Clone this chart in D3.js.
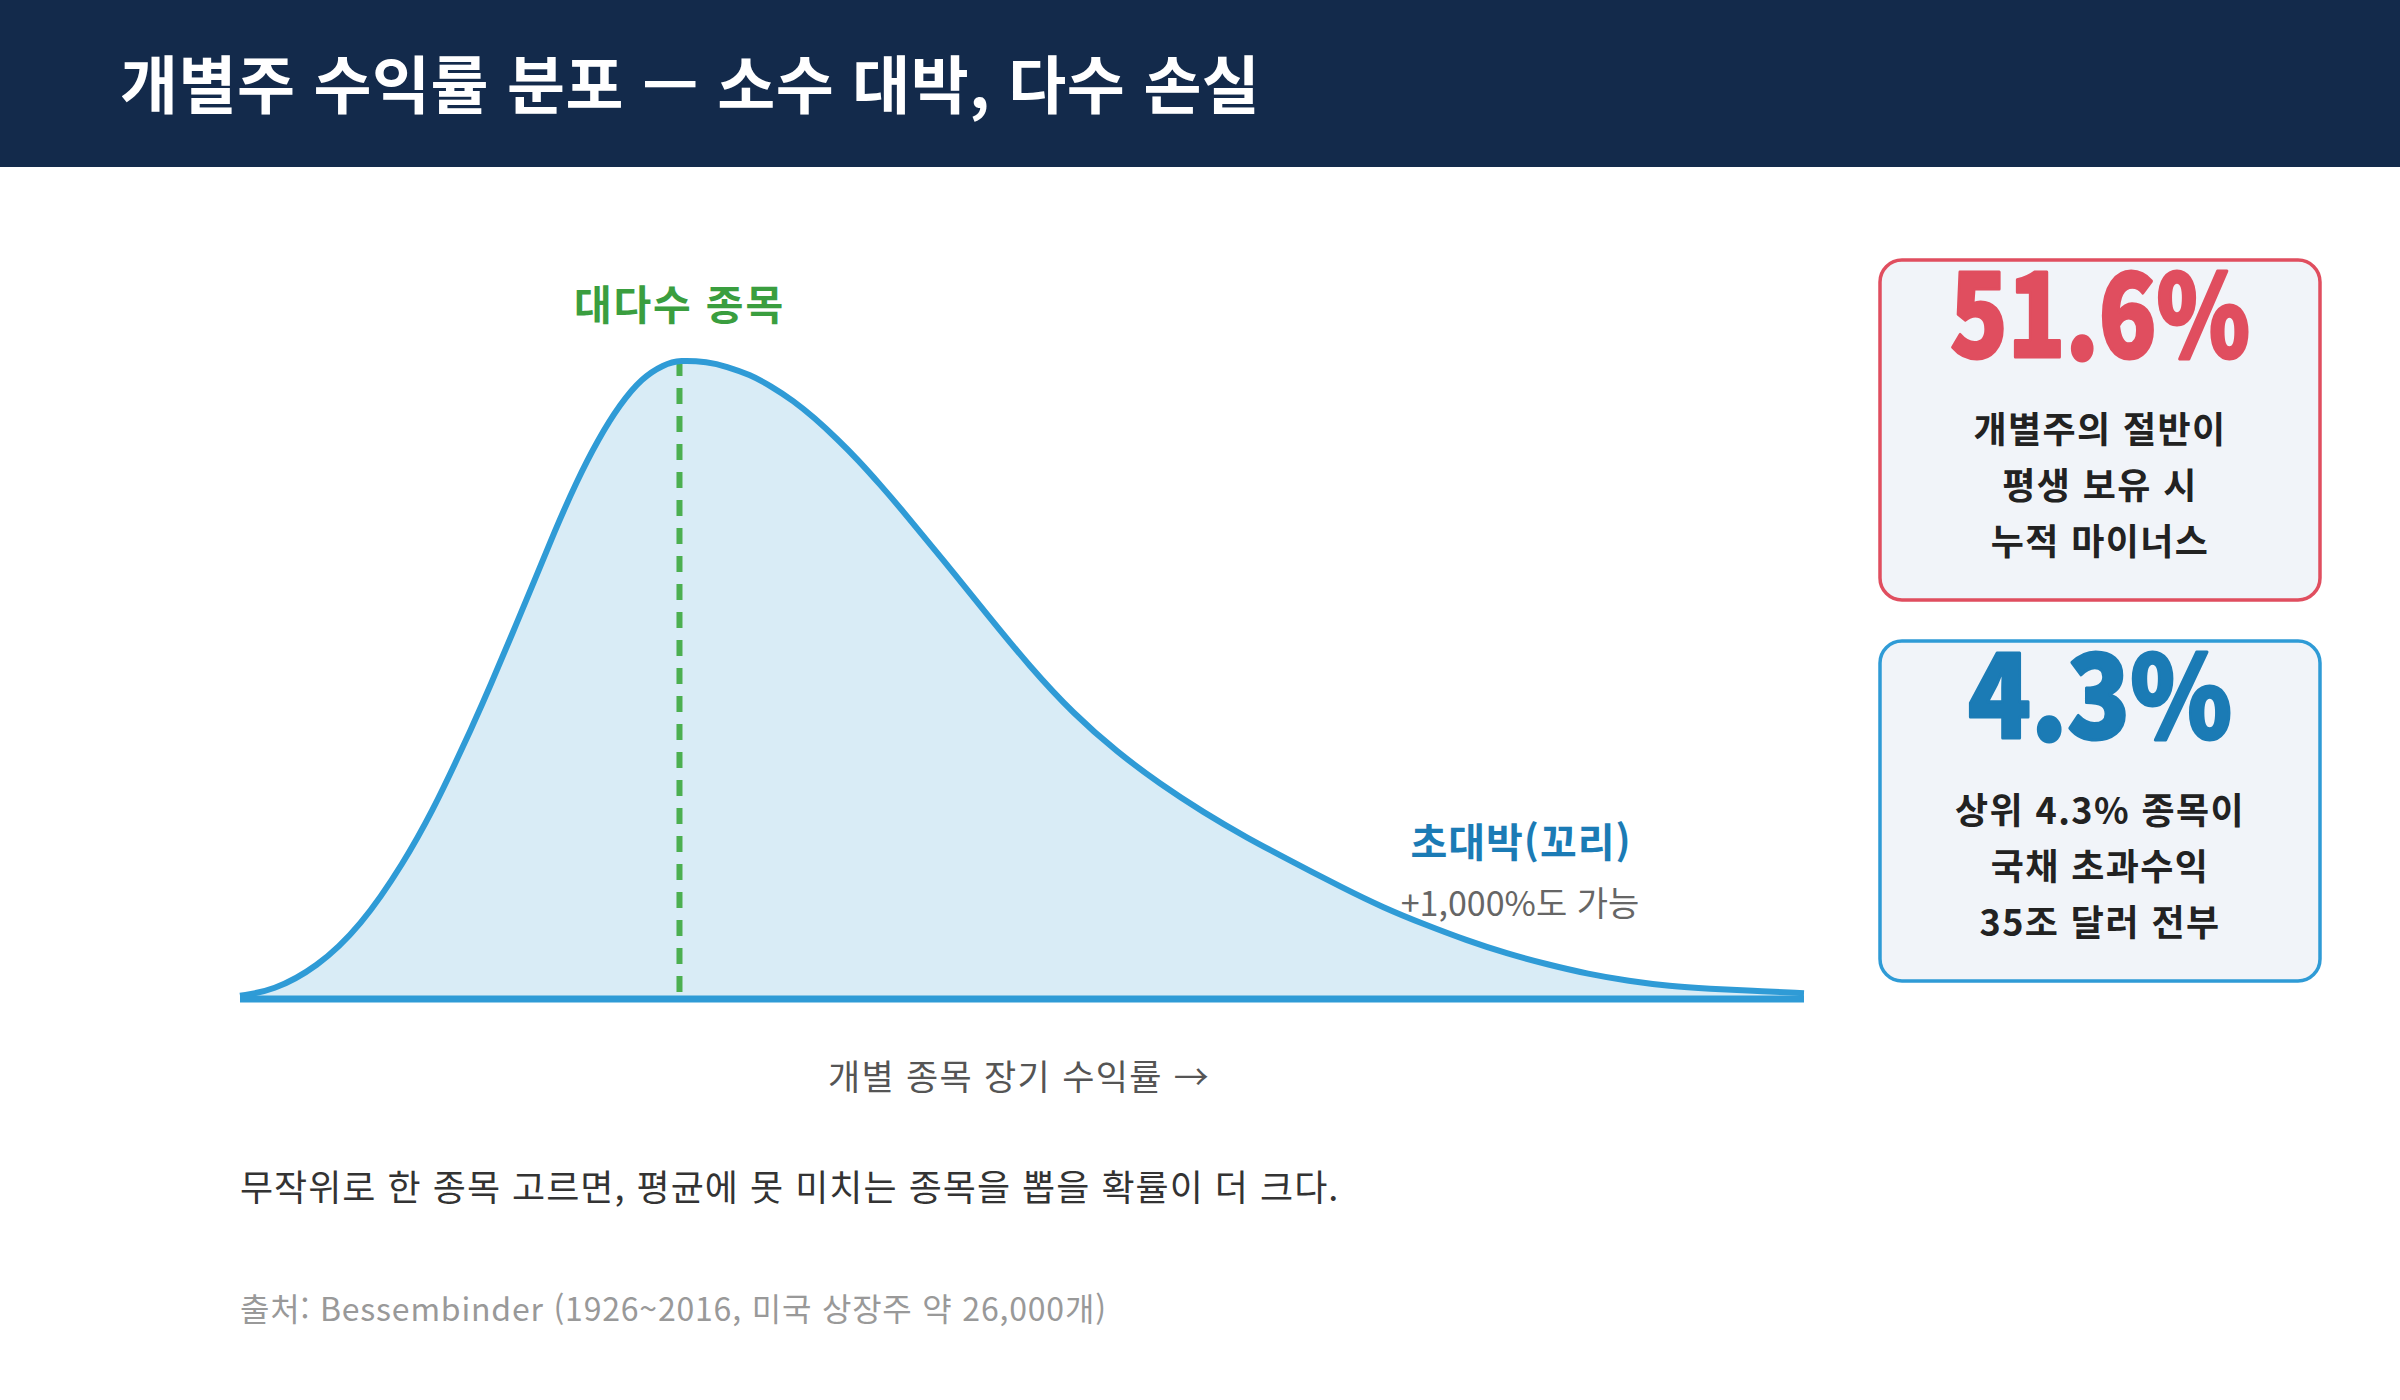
<!DOCTYPE html>
<html lang="ko">
<head>
<meta charset="utf-8">
<script src="https://cdn.jsdelivr.net/npm/d3@7"></script>
<style>
  body { margin: 0; background: #fff; }
  svg { display: block; font-family: "Noto Sans CJK KR", "Noto Sans", sans-serif; }
</style>
</head>
<body>
<div id="chart"></div>
<script>
// Curve: long-run return (0-100 scale) vs relative frequency (peak = 100)
const returnPct = [0, 2.1, 4.9, 7.7, 10.5, 12.4, 13.8, 14.9, 16.0, 17.4, 18.8, 20.1, 21.5, 22.9, 24.3, 25.7,
  27.1, 28.1, 29.9, 31.1, 32.6, 33.9, 35.4, 36.7, 38.2, 39.5, 41.0, 42.2, 45.0, 47.8, 50.5, 53.3,
  56.1, 58.8, 61.6, 64.4, 67.2, 70.5, 73.1, 75.8, 78.4, 81.0, 83.6, 86.2, 88.8, 91.4, 94.0, 96.6, 100];
const density = [0.5, 1.3, 4.9, 11.3, 21.4, 29.9, 37.1, 42.9, 49.0, 57.1, 65.3, 73.1, 80.9, 87.6, 93.1, 97.2,
  99.3, 100, 99.7, 99.0, 97.7, 96.0, 93.6, 91.0, 87.6, 84.4, 80.3, 76.9, 68.6, 60.1, 52.0, 44.6,
  38.6, 33.7, 29.2, 25.2, 21.6, 17.4, 14.3, 11.6, 9.2, 7.1, 5.4, 3.9, 2.8, 2.0, 1.6, 1.3, 0.9];

const modeReturn = 28.1;

const titleText = "개별주 수익률 분포 — 소수 대박, 다수 손실";
const modeLabel = "대다수 종목";
const tailLabel = "초대박(꼬리)";
const tailSubLabel = "+1,000%도 가능";
const xAxisLabel = "개별 종목 장기 수익률 →";
const noteText = "무작위로 한 종목 고르면, 평균에 못 미치는 종목을 뽑을 확률이 더 크다.";
const sourceText = "출처: Bessembinder (1926~2016, 미국 상장주 약 26,000개)";

const statValues = ["51.6%", "4.3%"];
const statLines = [
  ["개별주의 절반이", "평생 보유 시", "누적 마이너스"],
  ["상위 4.3% 종목이", "국채 초과수익", "35조 달러 전부"]
];

// Colors
const NAVY = "#132a4b";
const CURVE_BLUE = "#2f9bd6";
const FILL_BLUE = "#d9ecf6";
const DARK_BLUE = "#1b7bb5";
const GREEN = "#4caf50";
const GREEN_TEXT = "#3a9e3f";
const RED = "#e04e5f";
const BOX_FILL = "#f1f4f9";

const W = 2400, H = 1400;

const svg = d3.select("#chart").append("svg")
  .attr("width", W)
  .attr("height", H);

// header
svg.append("rect").attr("x", 0).attr("y", 0).attr("width", W).attr("height", 167).attr("fill", NAVY);
svg.append("text")
  .attr("x", 120).attr("y", 108)
  .attr("fill", "#fff")
  .attr("font-size", 63)
  .attr("font-weight", 700)
  .attr("letter-spacing", 0.5)
  .text(titleText);

const data = returnPct.map((r, i) => ({ r, d: density[i] }));

const x = d3.scaleLinear().domain([0, 100]).range([240, 1804]);
const y = d3.scaleLinear().domain([0, 100]).range([999, 360]);

const area = d3.area()
  .x(d => x(d.r))
  .y0(y(0))
  .y1(d => y(d.d))
  .curve(d3.curveBasis);

const line = d3.line()
  .x(d => x(d.r))
  .y(d => y(d.d))
  .curve(d3.curveBasis);

svg.append("path").datum(data).attr("d", area).attr("fill", FILL_BLUE);

// dashed line at the mode
svg.append("line")
  .attr("x1", x(modeReturn)).attr("x2", x(modeReturn))
  .attr("y1", y(100)).attr("y2", y(1))
  .attr("stroke", GREEN)
  .attr("stroke-width", 6)
  .attr("stroke-dasharray", "16,12");

svg.append("path").datum(data).attr("d", line)
  .attr("fill", "none")
  .attr("stroke", CURVE_BLUE)
  .attr("stroke-width", 6)
  .attr("stroke-linejoin", "round");

// baseline
svg.append("line")
  .attr("x1", x(0)).attr("x2", x(100))
  .attr("y1", y(0)).attr("y2", y(0))
  .attr("stroke", CURVE_BLUE)
  .attr("stroke-width", 7);

svg.append("text")
  .attr("x", x(modeReturn)).attr("y", 320)
  .attr("text-anchor", "middle")
  .attr("fill", GREEN_TEXT)
  .attr("font-size", 41)
  .attr("font-weight", 700)
  .attr("letter-spacing", 1.8)
  .text(modeLabel);

svg.append("text")
  .attr("x", 1521).attr("y", 857)
  .attr("text-anchor", "middle")
  .attr("fill", DARK_BLUE)
  .attr("font-size", 40)
  .attr("font-weight", 700)
  .attr("letter-spacing", 1)
  .text(tailLabel);

svg.append("text")
  .attr("x", 1520).attr("y", 916)
  .attr("text-anchor", "middle")
  .attr("fill", "#666")
  .attr("font-size", 34)
  .text(tailSubLabel);

svg.append("text")
  .attr("x", 1019).attr("y", 1090)
  .attr("text-anchor", "middle")
  .attr("fill", "#555")
  .attr("font-size", 35)
  .attr("letter-spacing", 1.3)
  .text(xAxisLabel);

svg.append("text")
  .attr("x", 240).attr("y", 1201)
  .attr("fill", "#333")
  .attr("font-size", 36)
  .attr("letter-spacing", 1)
  .text(noteText);

svg.append("text")
  .attr("x", 240).attr("y", 1321)
  .attr("fill", "#999")
  .attr("font-size", 32)
  .attr("letter-spacing", 0.8)
  .text(sourceText);

// stat boxes
const boxColors = [RED, CURVE_BLUE];
const valueColors = [RED, DARK_BLUE];
const boxTop = [260, 641];
const valueWidth = [300, 264];

statValues.forEach((v, i) => {
  const g = svg.append("g").attr("transform", `translate(1880,${boxTop[i]})`);
  g.append("rect")
    .attr("width", 440).attr("height", 340)
    .attr("rx", 22)
    .attr("fill", BOX_FILL)
    .attr("stroke", boxColors[i])
    .attr("stroke-width", 3.5);
  g.append("text")
    .attr("x", 220).attr("y", 97)
    .attr("text-anchor", "middle")
    .attr("fill", valueColors[i])
    .attr("stroke", valueColors[i])
    .attr("stroke-width", 3)
    .attr("stroke-linejoin", "round")
    .attr("font-size", 114)
    .attr("font-weight", 900)
    .attr("textLength", valueWidth[i])
    .attr("lengthAdjust", "spacingAndGlyphs")
    .text(v);
  g.selectAll(".ln")
    .data(statLines[i])
    .enter()
    .append("text")
    .attr("class", "ln")
    .attr("x", 220)
    .attr("y", (d, j) => 183 + j * 56)
    .attr("text-anchor", "middle")
    .attr("fill", "#222")
    .attr("font-size", 36)
    .attr("font-weight", 700)
    .attr("letter-spacing", 1.4)
    .text(d => d);
});
</script>
</body>
</html>
